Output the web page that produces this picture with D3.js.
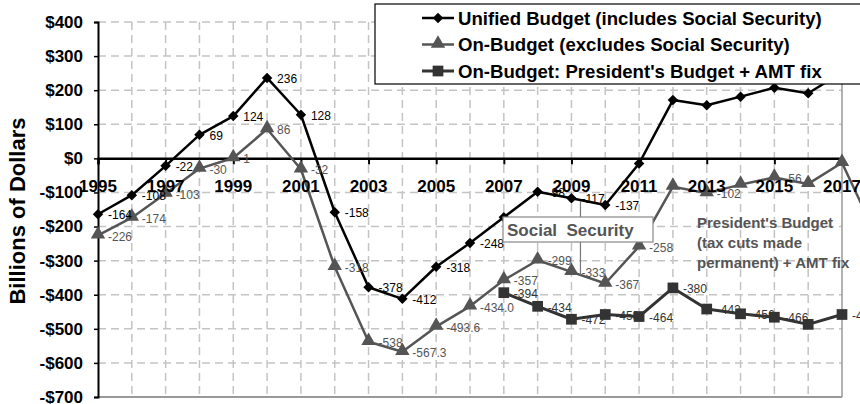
<!DOCTYPE html>
<html><head><meta charset="utf-8">
<script src="https://cdn.jsdelivr.net/npm/d3@7"></script>
<style>body{margin:0;background:#fff}svg{display:block;font-family:Arial,"Liberation Sans",sans-serif}</style>
</head><body><svg id="c" width="860" height="404"></svg>
<script>
const years = [1995,1996,1997,1998,1999,2000,2001,2002,2003,2004,2005,2006,2007,2008,2009,2010,2011,2012,2013,2014,2015,2016,2017,2018];
const unified = [-164,-108,-22,69,124,236,128,-158,-378,-412,-318,-248,-173,-98,-117,-137,-15,171,156,181,207,191,252,null];
const unifiedLabels = ["-164","-108","-22","69","124","236","128","-158","-378","-412","-318","-248",null,"-98","-117","-137",null,null,null,null,null,null,null,null];
const onBudget = [-226,-174,-103,-30,1,86,-32,-318,-538,-567.3,-493.6,-434.0,-357,-299,-333,-367,-258,-83,-102,-77,-56,-75,-13,-224];
const onBudgetLabels = ["-226","-174","-103","-30","1","86","-32","-318","-538","-567.3","-493.6","-434.0","-357","-299","-333","-367","-258",null,"-102",null,"-56",null,null,null];
const presYears = [2007,2008,2009,2010,2011,2012,2013,2014,2015,2016,2017];
const pres = [-394,-434,-472,-458,-464,-380,-442,-456,-466,-487,-458];
const presLabels = ["-394","-434","-472","-458","-464","-380","-442","-456","-466",null,"-458"];
const yTicks = [400,300,200,100,0,-100,-200,-300,-400,-500,-600,-700];
const xTickYears = [1995,1997,1999,2001,2003,2005,2007,2009,2011,2013,2015,2017];
const legendNames = ["Unified Budget (includes Social Security)","On-Budget (excludes Social Security)","On-Budget: President's Budget + AMT fix"];
const annotationLines = ["President's Budget","(tax cuts made","permanent) + AMT fix"];

const svg = d3.select("#c");
const x = d3.scaleLinear().domain([1995,2017]).range([98,842]);
const y = d3.scaleLinear().domain([400,-700]).range([22,397]);
const C1="#000", C2="#555", C3="#333", GRID="#c4c4c4";

// gridlines
const g = svg.append("g");
g.selectAll("line.h").data(yTicks.filter(v=>v>-700 && v!==0)).join("line")
 .attr("x1",x(1995)).attr("x2",x(2017)).attr("y1",d=>y(d)).attr("y2",d=>y(d))
 .attr("stroke",GRID).attr("stroke-width",1.5).attr("stroke-dasharray","8,5");
g.selectAll("line.v").data(d3.range(1996,2017)).join("line")
 .attr("x1",d=>x(d)).attr("x2",d=>x(d)).attr("y1",y(400)).attr("y2",y(-700))
 .attr("stroke",GRID).attr("stroke-width",1.5).attr("stroke-dasharray","8,5");
g.append("line").attr("x1",x(2017)).attr("x2",x(2017)).attr("y1",y(400)).attr("y2",y(-700)).attr("stroke","#999").attr("stroke-width",1.5);
g.append("line").attr("x1",x(1995)).attr("x2",x(2017)).attr("y1",y(-700)).attr("y2",y(-700)).attr("stroke","#999").attr("stroke-width",2);

// y axis
const yAxis = svg.append("g").attr("transform",`translate(${x(1995)},0)`)
 .call(d3.axisLeft(y).tickValues(yTicks).tickSize(4).tickFormat(d=> d<0 ? "-$"+Math.abs(d) : "$"+d));
yAxis.select(".domain").attr("stroke","#000").attr("stroke-width",2);
yAxis.selectAll(".tick line").attr("stroke","#000").attr("stroke-width",1.5);
yAxis.selectAll(".tick text").attr("font-size",17).attr("font-weight","bold").attr("fill","#000")
 .attr("font-family",'Arial,"Liberation Sans",sans-serif').attr("x",-15);

// zero axis with ticks
const xAxis = svg.append("g").attr("transform",`translate(0,${y(0)})`)
 .call(d3.axisBottom(x).tickValues(xTickYears).tickSize(6).tickFormat(d3.format("d")));
xAxis.select(".domain").attr("stroke","#000").attr("stroke-width",2.5);
xAxis.selectAll(".tick line").attr("stroke","#000").attr("stroke-width",2);
xAxis.selectAll(".tick text").remove();

// series
function pts(xs, vals, labels){ return vals.map((v,i)=>({yr:xs[i], v:v, lab:labels[i]})).filter(p=>p.v!==null); }
const sU = pts(years,unified,unifiedLabels), sB = pts(years,onBudget,onBudgetLabels), sP = pts(presYears,pres,presLabels);
function drawSeries(data, color, width){
  const line = d3.line().x(d=>x(d.yr)).y(d=>y(d.v));
  svg.append("path").datum(data).attr("d",line).attr("fill","none").attr("stroke",color).attr("stroke-width",width).attr("stroke-linejoin","round");
}
drawSeries(sB,C2,2.5);
drawSeries(sP,C3,3);
drawSeries(sU,C1,2.5);

const sym = (type,size)=>d3.symbol().type(type).size(size)();
svg.append("g").selectAll("path").data(sB).join("path")
 .attr("transform",d=>`translate(${x(d.yr)},${y(d.v)-1})`).attr("d",sym(d3.symbolTriangle,90)).attr("fill",C2);
svg.append("g").selectAll("path").data(sP).join("path")
 .attr("transform",d=>`translate(${x(d.yr)},${y(d.v)})`).attr("d",sym(d3.symbolSquare,115)).attr("fill",C3);
svg.append("g").selectAll("path").data(sU).join("path")
 .attr("transform",d=>`translate(${x(d.yr)},${y(d.v)}) rotate(45)`).attr("d",sym(d3.symbolSquare,55)).attr("fill",C1);

// data labels
function drawLabels(data, color){
  svg.append("g").selectAll("text").data(data.filter(d=>d.lab!==null)).join("text")
   .attr("x",d=>x(d.yr)+10).attr("y",d=>y(d.v)+1).attr("dy","0.35em")
   .attr("font-size",12).attr("fill",color).text(d=>d.lab);
}
drawLabels(sB,C2);
drawLabels(sP,C3);
drawLabels(sU,C1);

// x tick labels (drawn over data)
svg.append("g").selectAll("text").data(xTickYears).join("text")
 .attr("x",d=>x(d)).attr("y",192).attr("text-anchor","middle")
 .attr("font-size",17).attr("font-weight","bold").attr("fill","#000").text(d=>d);

// Social Security annotation
svg.append("line").attr("x1",x(2009)+9).attr("x2",x(2009)+9).attr("y1",y(-125)).attr("y2",y(-342))
 .attr("stroke","#777").attr("stroke-width",1.2);
svg.append("rect").attr("x",503).attr("y",217).attr("width",150).attr("height",25)
 .attr("fill","#fff").attr("stroke","#888").attr("stroke-width",1.2);
svg.append("text").attr("x",507).attr("y",236).attr("font-size",17).attr("font-weight","bold")
 .attr("fill",C2).style("white-space","pre").text("Social  Security");

// President's budget annotation
svg.append("g").selectAll("text").data(annotationLines).join("text")
 .attr("x",697).attr("y",(d,i)=>228+i*20).attr("font-size",15).attr("font-weight","bold").attr("fill",C2).text(d=>d);

// y axis title
svg.append("text").attr("transform","translate(25,211) rotate(-90)").attr("text-anchor","middle")
 .attr("font-size",22).attr("font-weight","bold").attr("fill","#000").text("Billions of Dollars");

// legend
const lg = svg.append("g");
lg.append("rect").attr("x",375).attr("y",4).attr("width",500).attr("height",80).attr("fill","#fff").attr("stroke","#000").attr("stroke-width",1.2);
const colors=[C1,C2,C3], widths=[2.5,2.5,3];
const shapes=[[d3.symbolSquare,55,45],[d3.symbolTriangle,90,0],[d3.symbolSquare,115,0]];
legendNames.forEach((name,i)=>{
  const cy = 18 + i*26.5;
  lg.append("line").attr("x1",422).attr("x2",454).attr("y1",cy).attr("y2",cy).attr("stroke",colors[i]).attr("stroke-width",widths[i]);
  lg.append("path").attr("transform",`translate(438,${cy - (i===1?1:0)}) rotate(${shapes[i][2]})`).attr("d",sym(shapes[i][0],shapes[i][1])).attr("fill",colors[i]);
  lg.append("text").attr("x",458).attr("y",cy).attr("dy","0.36em").attr("font-size",18.6).attr("font-weight","bold").attr("fill","#000").text(name);
});
</script></body></html>
